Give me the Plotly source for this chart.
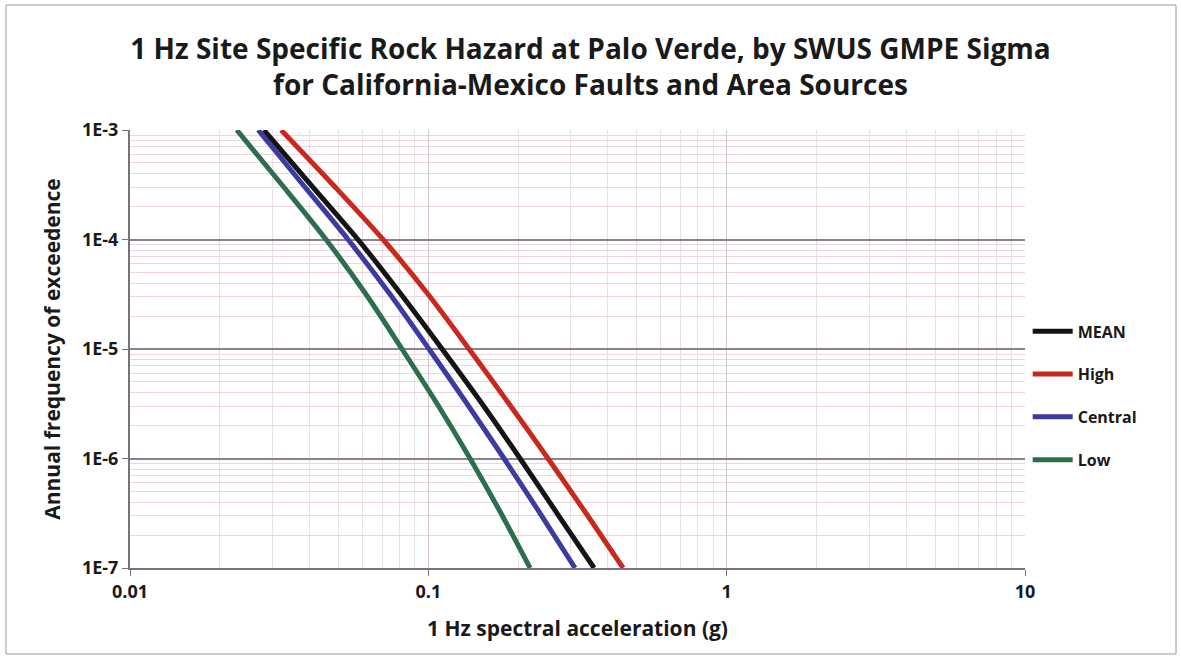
import plotly.graph_objects as go

# Annual frequency of exceedance levels (shared by all curves)
afe = [1e-3, 3.16e-4, 1e-4, 3.16e-5, 1e-5, 3.16e-6, 1e-6, 3.16e-7, 1e-7]

# 1 Hz spectral acceleration (g) for each sigma branch
sa_mean = [0.0281, 0.0404, 0.0581, 0.0810, 0.1112, 0.1514, 0.2030, 0.2701, 0.3593]
sa_high = [0.0321, 0.0479, 0.0705, 0.0998, 0.1369, 0.1864, 0.2519, 0.3378, 0.4496]
sa_central = [0.0269, 0.0380, 0.0538, 0.0744, 0.1005, 0.1348, 0.1794, 0.2369, 0.3103]
sa_low = [0.0228, 0.0323, 0.0454, 0.0618, 0.0816, 0.1070, 0.1380, 0.1752, 0.2193]

series_names = ["MEAN", "High", "Central", "Low"]
series_values = [sa_mean, sa_high, sa_central, sa_low]
series_colors = ["#141414", "#c8281e", "#3b3ba0", "#2c6e4e"]

x_tick_vals = [0.01, 0.1, 1, 10]
x_tick_text = ["0.01", "0.1", "1", "10"]
y_tick_vals = [1e-3, 1e-4, 1e-5, 1e-6, 1e-7]
y_tick_text = ["1E-3", "1E-4", "1E-5", "1E-6", "1E-7"]

FONT = "Open Sans"
INK = "#1a1a1a"
TICK_FONT = dict(family=FONT, size=18, color=INK, weight="bold")

fig = go.Figure()
for i, (name, vals, col) in enumerate(zip(series_names, series_values, series_colors)):
    fig.add_trace(go.Scatter(
        x=vals, y=afe, mode="lines", name=f"<b>{name}</b>",
        line=dict(color=col, width=5, shape="spline", smoothing=0.8),
        legendgroup=f"g{i}",
    ))

fig.update_layout(
    width=1181, height=665,
    paper_bgcolor="white", plot_bgcolor="white",
    margin=dict(l=130, r=156, t=130, b=97),
    font=dict(family=FONT, color=INK),
    title=dict(
        text="<b>1 Hz Site Specific Rock Hazard at Palo Verde, by SWUS GMPE Sigma<br>"
             "for California-Mexico Faults and Area Sources</b>",
        x=0.5, xanchor="center", y=0.912, yanchor="middle",
        font=dict(family=FONT, size=28, color=INK),
    ),
    legend=dict(
        x=1.003, xanchor="left", y=0.393, yanchor="middle",
        font=dict(family=FONT, size=16, color=INK),
        tracegroupgap=19, itemwidth=40,
        bgcolor="rgba(0,0,0,0)",
    ),
    showlegend=True,
    xaxis=dict(
        type="log", range=[-2, 1],
        tickmode="array", tickvals=x_tick_vals, ticktext=x_tick_text,
        tickfont=TICK_FONT,
        ticks="outside", ticklen=6, tickcolor="#7a7080",
        showline=True, linecolor="#7a7080", linewidth=2,
        showgrid=True, gridcolor="#d6c6cc", gridwidth=1,
        minor=dict(dtick="D1", showgrid=True, gridcolor="#ecdfe3", gridwidth=1),
        zeroline=False,
        title=dict(text="<b>1 Hz spectral acceleration (g)</b>",
                   font=dict(family=FONT, size=21, color=INK), standoff=20),
    ),
    yaxis=dict(
        type="log", range=[-7, -3],
        tickmode="array", tickvals=y_tick_vals, ticktext=y_tick_text,
        tickfont=TICK_FONT,
        ticks="outside", ticklen=6, tickcolor="#7a7080",
        showline=True, linecolor="#7a7080", linewidth=2,
        showgrid=True, gridcolor="#8a8090", gridwidth=2,
        minor=dict(dtick="D1", showgrid=True, gridcolor="#ecd6dd", gridwidth=1),
        zeroline=False,
        title=dict(text="<b>Annual frequency of exceedence</b>",
                   font=dict(family=FONT, size=21, color=INK), standoff=16),
    ),
)

# thin frame around the whole chart
fig.add_shape(
    type="rect", xref="paper", yref="paper",
    x0=(6 - 130) / 895, x1=(1176 - 130) / 895,
    y0=(568 - 654) / 438, y1=(568 - 5) / 438,
    line=dict(color="#9a9a9a", width=1), fillcolor="rgba(0,0,0,0)",
    layer="below",
)

fig.write_html("out.html")
